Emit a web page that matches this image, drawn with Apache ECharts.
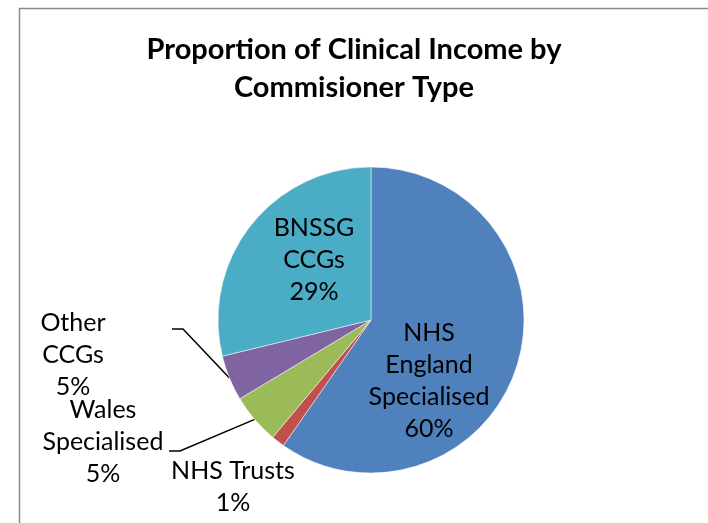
<!DOCTYPE html>
<html>
<head>
<meta charset="utf-8">
<script src="https://cdn.jsdelivr.net/npm/echarts@6/dist/echarts.min.js"></script>
<style>
html, body { margin: 0; padding: 0; background: #fff; }
#main { width: 708px; height: 523px; }
</style>
</head>
<body>
<div id="main"></div>
<script>
// data (share of clinical income, %)
var categories = ['NHS England Specialised', 'NHS Trusts', 'Wales Specialised', 'Other CCGs', 'BNSSG CCGs'];
var labelTexts = ['NHS\nEngland\nSpecialised', 'NHS Trusts', 'Wales\nSpecialised', 'Other\nCCGs', 'BNSSG\nCCGs'];
var shares = [59.7, 1.4, 5.3, 4.8, 28.8];
var colors = ['#4F81BD', '#C0504D', '#9BBB59', '#8064A2', '#4BACC6'];

// where the labels sit (Excel had them dragged by hand): text centre + end of leader
var labelSpots = [
    { x: 429, y: 381 },
    { x: 233, y: 487 },
    { x: 103, y: 442, lineEnd: [169, 451] },
    { x: 73, y: 355, lineEnd: [172, 329] },
    { x: 314, y: 260 }
];
var insideIdx = [0, 4];

var chart = echarts.init(document.getElementById('main'));

var pieData = shares.map(function (v, i) {
    var inside = insideIdx.indexOf(i) >= 0;
    return {
        name: categories[i],
        value: v,
        itemStyle: { color: colors[i] },
        label: { position: inside ? 'inside' : 'outside' },
        labelLine: { show: !!labelSpots[i].lineEnd }
    };
});

var option = {
    animation: false,
    title: {
        text: 'Proportion of Clinical Income by\nCommisioner Type',
        left: 'center',
        top: 31,
        padding: 0,
        textStyle: {
            fontFamily: 'Lato',
            fontWeight: 'bold',
            fontSize: 29,
            lineHeight: 38,
            color: '#000'
        }
    },
    graphic: [{
        type: 'rect',
        shape: { x: 19.5, y: 8.5, width: 760, height: 600 },
        style: { fill: null, stroke: '#8a8a8a', lineWidth: 1.5 },
        silent: true
    }],
    series: [{
        type: 'pie',
        center: [371, 320],
        radius: 153,
        startAngle: 90,
        clockwise: true,
        percentPrecision: 0,
        data: pieData,
        itemStyle: { borderColor: '#fff', borderWidth: 0.5 },
        label: {
            formatter: function (p) {
                return labelTexts[p.dataIndex] + '\n' + Math.round(p.percent) + '%';
            },
            fontFamily: 'Lato',
            fontSize: 25,
            lineHeight: 32,
            color: '#000'
        },
        labelLine: {
            lineStyle: { color: '#000', width: 1.5 }
        },
        labelLayout: function (p) {
            var s = labelSpots[p.dataIndex];
            var out = { x: s.x, y: s.y, align: 'center', verticalAlign: 'middle' };
            if (s.lineEnd && p.labelLinePoints) {
                var start = p.labelLinePoints[0];
                out.labelLinePoints = [
                    start,
                    [s.lineEnd[0] + 11, s.lineEnd[1]],
                    s.lineEnd
                ];
            }
            return out;
        }
    }]
};

chart.setOption(option);
</script>
</body>
</html>
